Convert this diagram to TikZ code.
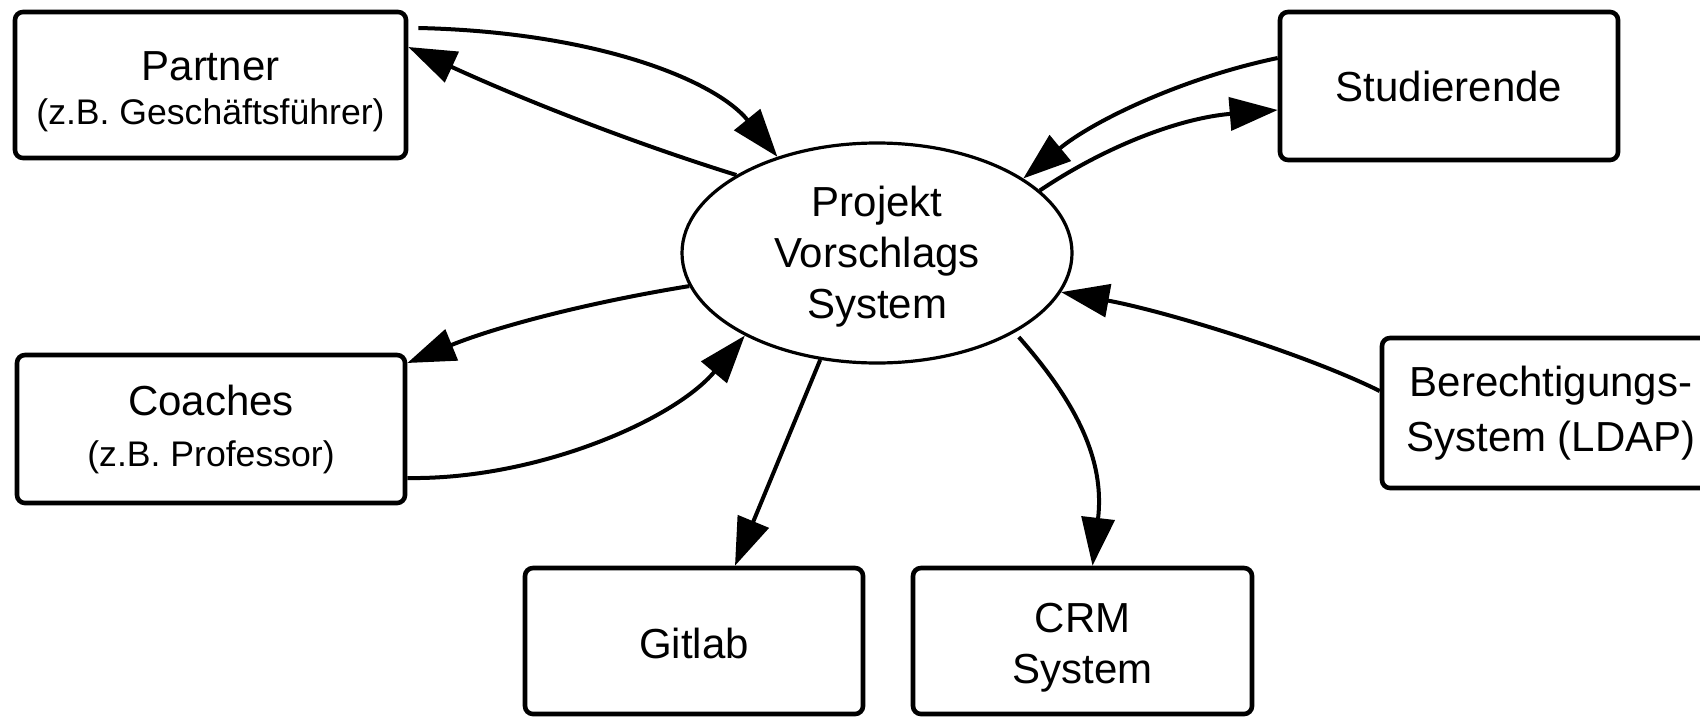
\documentclass[tikz,border=0pt]{standalone}
\usepackage{fontspec}
\setmainfont{Liberation Sans}
\usetikzlibrary{arrows.meta,shapes.geometric}

\begin{document}
\begin{tikzpicture}[x=0.5pt,y=-0.5pt,
  box/.style={draw, line width=2.3pt, rounded corners=4pt, fill=white,
    inner sep=0pt, align=center, anchor=center,
    font=\fontsize{21}{25.5}\selectfont},
  sysnode/.style={ellipse, draw, line width=1.6pt, fill=white,
    inner sep=0pt, align=center,
    minimum width=195pt, minimum height=110pt,
    font=\fontsize{21}{25.5}\selectfont},
  conn/.style={line width=2pt, -{Triangle[length=24pt,width=16.5pt]}}]

  \clip (0,0) rectangle (1700,717);
  \fill[white] (0,0) rectangle (1700,717);

  % central system
  \node[sysnode] (sys) at (877,253)
    {\rule{0pt}{18.5pt}Projekt\\Vorschlags\\System};

  % surrounding actors and systems
  \node[box, minimum width=195.5pt, minimum height=73pt] (partner) at (210.5,85)
    {\rule{0pt}{21pt}Partner\\[-3.6pt]{\fontsize{17.8}{21}\selectfont (z.B. Geschäftsführer)}};
  \node[box, minimum width=169pt, minimum height=74pt] (stud) at (1449,86)
    {Studierende};
  \node[box, minimum width=194pt, minimum height=74pt] (coach) at (211,429)
    {\rule{0pt}{16pt}Coaches\\{\fontsize{17.8}{21}\selectfont (z.B. Professor)}};
  \node[box, minimum width=169pt, minimum height=75pt] (ldap) at (1551,413)
    {Berechtigungs-\\[2pt]System (LDAP)};
  \node[box, minimum width=169pt, minimum height=73pt] (gitlab) at (694,641)
    {\rule{0pt}{17.5pt}Gitlab};
  \node[box, minimum width=169.5pt, minimum height=73pt] (crm) at (1082.5,641)
    {\rule{0pt}{21.5pt}CRM\\System};

  % data flows
  \draw[conn] ([xshift=5pt,yshift=28.5pt]partner.east)
    .. controls (596,32) and (715,80) .. (sys.136);
  \draw[conn] (sys.151)
    .. controls (627,141) and (517,97) .. ([yshift=19pt]partner.east);

  \draw[conn] ([yshift=14pt]stud.west)
    .. controls (1182,78) and (1093,121) .. (sys.27);
  \draw[conn] (sys.21)
    .. controls (1106,146) and (1180,118) .. ([yshift=-12pt]stud.west);

  \draw[conn] (sys.190)
    .. controls (591,302) and (498,326) .. ([yshift=33pt]coach.east);
  \draw[conn] ([yshift=-24.5pt]coach.east)
    .. controls (535,480) and (673,421) .. (sys.212);

  \draw[conn] ([yshift=11pt]ldap.west)
    .. controls (1301,352) and (1160,310) .. (sys.348);

  \draw[conn] (sys.242) -- ([xshift=20.5pt]gitlab.north);
  \draw[conn, shorten <=3pt] (sys.330)
    .. controls (1085,412) and (1104,468) .. ([xshift=5pt]crm.north);
\end{tikzpicture}
\end{document}
